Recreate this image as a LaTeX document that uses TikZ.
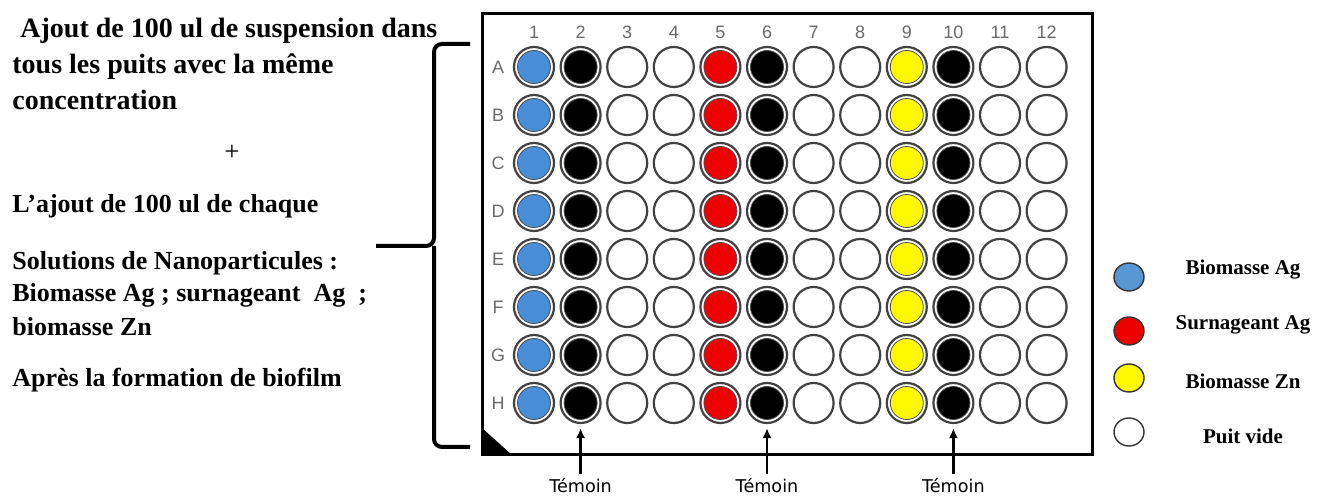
\documentclass[tikz,border=0pt]{standalone}
\usepackage{fontspec}
\setmainfont{Liberation Serif}
\newfontfamily\platefont{Liberation Sans}
\newfontfamily\labelfont{DejaVu Sans}
\usetikzlibrary{arrows.meta, positioning, shapes.geometric}
\definecolor{wellblue}{RGB}{72,142,215}
\definecolor{wellred}{RGB}{238,0,0}
\definecolor{wellyellow}{RGB}{255,248,0}
\definecolor{legblue}{RGB}{88,150,212}
\definecolor{ringgray}{RGB}{65,65,65}
\definecolor{idgray}{RGB}{105,105,105}
\tikzset{
  well/.style={circle, draw=ringgray, line width=1.1pt,
    minimum size=20pt, inner sep=0pt},
  welldot/.style={circle, draw=black!70, line width=0.4pt,
    minimum size=16.5pt, inner sep=0pt},
  colid/.style={font=\platefont\fontsize{9}{10}\selectfont, text=idgray, inner sep=0pt},
  rowid/.style={font=\platefont\fontsize{9}{10}\selectfont, text=idgray, inner sep=0pt},
  note/.style={anchor=base west, inner sep=0pt,
    font=\fontsize{13}{16}\selectfont\bfseries},
  bignote/.style={note, font=\fontsize{14}{16}\selectfont\bfseries},
  temoin/.style={font=\labelfont\fontsize{8.8}{10}\selectfont, inner sep=0pt},
  marker/.style={-{Latex[length=5pt,width=4.5pt]}, line width=1.3pt,
    shorten <=2pt, shorten >=2pt},
  legdot/.style={ellipse, draw=black!80, line width=0.7pt,
    minimum width=15pt, minimum height=14pt, inner sep=0pt},
  legtext/.style={font=\fontsize{10.5}{12}\selectfont\bfseries, inner sep=0pt},
  bracket/.style={line width=2pt, rounded corners=4pt},
  plate/.style={line width=1.5pt}
}
\begin{document}
\begin{tikzpicture}[x=0.5pt, y=-0.5pt]
  \useasboundingbox (0,0) rectangle (1328,496);

  % consignes
  \node[bignote] (txt-1) at (20,38) {Ajout de 100 ul de suspension dans};
  \node[bignote] (txt-2) at (12,74) {tous les puits avec la même};
  \node[bignote] (txt-3) at (12,110) {concentration};
  \node[font=\fontsize{13.5}{16}\selectfont, inner sep=0pt] (plus) at (232,153) {+};
  \node[note] (txt-4) at (12,213) {L’ajout de 100 ul de chaque};
  \node[note] (txt-5) at (12,270) {Solutions de Nanoparticules :};
  \node[note] (txt-6) at (12,302) {Biomasse Ag ; surnageant\ \ Ag\ \ ;};
  \node[note] (txt-7) at (12,336) {biomasse Zn};
  \node[note] (txt-8) at (12,387) {Après la formation de biofilm};

  % accolade
  \draw[bracket] (470,44) -| (434,246) -- (376,246);
  \draw[bracket] (434,246) |- (470,447);

  % plaque
  \draw[plate] (482,14) rectangle (1092,455);
  \fill (482,428) -- (482,455) -- (512,455) -- cycle;

  \foreach \c in {1,...,12}
    \node[colid] (col-\c) at ({534+46.6*(\c-1)},32) {\c};
  \foreach \r [count=\i] in {A,B,C,D,E,F,G,H} {
    \node[rowid] (row-\r) at (498,{67+48*(\i-1)}) {\r};
    \foreach \c in {1,...,12}
      \node[well] (w-\r-\c) at ({534+46.6*(\c-1)},{67+48*(\i-1)}) {};
    \node[welldot, fill=wellblue] (d-\r-1) at (w-\r-1) {};
    \node[welldot, fill=black] (d-\r-2) at (w-\r-2) {};
    \node[welldot, fill=wellred] (d-\r-5) at (w-\r-5) {};
    \node[welldot, fill=black] (d-\r-6) at (w-\r-6) {};
    \node[welldot, fill=wellyellow] (d-\r-9) at (w-\r-9) {};
    \node[welldot, fill=black] (d-\r-10) at (w-\r-10) {};
  }

  % temoins
  \foreach \c in {2,6,10} {
    \node[temoin] (tem-\c) at ({534+46.6*(\c-1)},486) {Témoin};
    \draw[marker] (tem-\c.north) -- (w-H-\c.south);
  }

  % legende
  \node[legdot, fill=legblue] (leg-1) at (1129,277) {};
  \node[legdot, fill=wellred] (leg-2) at (1129,331) {};
  \node[legdot, fill=wellyellow] (leg-3) at (1129,378) {};
  \node[legdot, fill=white] (leg-4) at (1129,432) {};
  \node[legtext] (lt-1) at (1243,270) {Biomasse Ag};
  \node[legtext] (lt-2) at (1243,325) {Surnageant Ag};
  \node[legtext] (lt-3) at (1243,381) {Biomasse Zn};
  \node[legtext] (lt-4) at (1243,436) {Puit vide};
\end{tikzpicture}
\end{document}
